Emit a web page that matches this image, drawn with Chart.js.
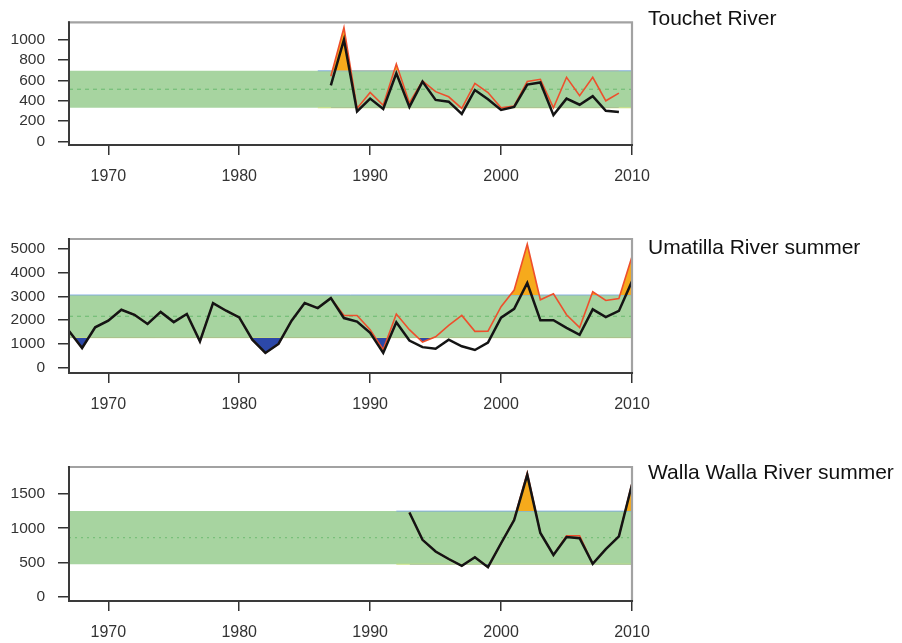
<!DOCTYPE html>
<html>
<head>
<meta charset="utf-8">
<script src="https://cdn.jsdelivr.net/npm/chart.js@4.4.1/dist/chart.umd.min.js"></script>
<style>
  html, body { margin: 0; padding: 0; background: #fff; }
  body { width: 902px; height: 643px; position: relative; overflow: hidden;
         font-family: "Liberation Sans", Arial, Helvetica, sans-serif; }
  .panel { position: absolute; left: 0; }
  .title { position: absolute; left: 648px; font-size: 21px; line-height: 21px;
           color: #111; white-space: nowrap; }
</style>
</head>
<body>
<div class="panel" style="top:0px"><canvas id="touchet" width="902" height="214"></canvas></div>
<div class="panel" style="top:214px"><canvas id="umatilla" width="902" height="214"></canvas></div>
<div class="panel" style="top:428px"><canvas id="walla" width="902" height="215"></canvas></div>
<div class="title" style="top:7px">Touchet River</div>
<div class="title" style="top:236px">Umatilla River summer</div>
<div class="title" style="top:461px">Walla Walla River summer</div>

<script>
// ---- Shared axis ticks ----
const xTicks = [1970, 1980, 1990, 2000, 2010];
const xRange = [1967, 2010];

// ---- Touchet River ----
const touchetYears = [1987, 1988, 1989, 1990, 1991, 1992, 1993, 1994, 1995, 1996, 1997, 1998,
                      1999, 2000, 2001, 2002, 2003, 2004, 2005, 2006, 2007, 2008, 2009];
const touchetWild  = [550, 1000, 294, 420, 318, 670, 339, 588, 408, 390, 270, 505,
                      414, 309, 339, 558, 579, 258, 420, 360, 444, 300, 288];
const touchetTotal = [640, 1120, 324, 480, 354, 760, 378, 595, 489, 438, 324, 570,
                      480, 330, 348, 588, 610, 330, 630, 450, 630, 399, 474];
const touchetBand  = [330, 512, 694];           // low, mean, high
const touchetYTicks = [0, 200, 400, 600, 800, 1000];

// ---- Umatilla River summer ----
const umatillaYears = [1967, 1968, 1969, 1970, 1971, 1972, 1973, 1974, 1975, 1976, 1977,
                       1978, 1979, 1980, 1981, 1982, 1983, 1984, 1985, 1986, 1987, 1988,
                       1989, 1990, 1991, 1992, 1993, 1994, 1995, 1996, 1997, 1998, 1999,
                       2000, 2001, 2002, 2003, 2004, 2005, 2006, 2007, 2008, 2009, 2010];
const umatillaWild  = [1550, 830, 1700, 1980, 2440, 2230, 1840, 2350, 1920, 2260, 1110,
                       2720, 2400, 2120, 1180, 620, 1000, 1980, 2720, 2510, 2930, 2090,
                       1940, 1470, 620, 1915, 1145, 865, 795, 1180, 900, 745, 1060,
                       2105, 2478, 3568, 2000, 2000, 1680, 1385, 2458, 2128, 2392, 3638];
const umatillaTotal = [1550, 830, 1700, 1980, 2440, 2230, 1840, 2350, 1920, 2260, 1110,
                       2720, 2400, 2120, 1180, 620, 1000, 1980, 2720, 2510, 2930, 2200,
                       2200, 1600, 760, 2260, 1600, 1080, 1300, 1780, 2200, 1530, 1540,
                       2570, 3270, 5200, 2860, 3110, 2230, 1690, 3200, 2830, 2910, 4680];
const umatillaBand  = [1264, 2163, 3062];
const umatillaYTicks = [0, 1000, 2000, 3000, 4000, 5000];

// ---- Walla Walla River summer ----
const wallaYears = [1993, 1994, 1995, 1996, 1997, 1998, 1999, 2000, 2001, 2002, 2003,
                    2004, 2005, 2006, 2007, 2008, 2009, 2010];
const wallaWild  = [1230, 830, 660, 550, 450, 575, 430, 780, 1120, 1780, 930,
                    610, 870, 855, 480, 695, 880, 1640];
const wallaTotal = [1230, 830, 660, 550, 450, 575, 430, 780, 1130, 1810, 930,
                    610, 890, 890, 480, 695, 880, 1660];
const wallaBand  = [474, 862, 1250];
const wallaYTicks = [0, 500, 1000, 1500];

// ---- Styling ----
const C = {
  band: '#a7d4a0',
  mean: '#78c07a',
  bandTopEdge: 'rgba(120,165,225,0.85)',
  bandLowEdge: 'rgba(205,225,120,0.9)',
  above: '#f6aa1c',
  below: '#2c48a8',
  total: '#ee4f2c',
  wild: '#141414',
  axis: '#333333',
  box: '#a2a2a2',
  none: 'rgba(0,0,0,0)'
};

// Plot frame: dark axes on left/bottom, grey box on top/right
const framePlugin = {
  id: 'frame',
  afterDraw(chart) {
    const { ctx, chartArea: a } = chart;
    ctx.save();
    ctx.lineCap = 'square';
    ctx.strokeStyle = C.box;
    ctx.lineWidth = 2.2;
    ctx.beginPath();
    ctx.moveTo(a.left, a.top);
    ctx.lineTo(a.right, a.top);
    ctx.lineTo(a.right, a.bottom);
    ctx.stroke();
    ctx.strokeStyle = '#3a3a3a';
    ctx.lineWidth = 2;
    ctx.beginPath();
    ctx.moveTo(a.left, a.top);
    ctx.lineTo(a.left, a.bottom);
    ctx.lineTo(a.right, a.bottom);
    ctx.stroke();
    ctx.restore();
  }
};

function pts(xs, ys) { return xs.map((x, i) => ({ x: x, y: ys[i] })); }
function flat(x0, x1, y) { return [{ x: x0, y: y }, { x: x1, y: y }]; }

function buildPanel(id, p) {
  const [lo, mean, hi] = p.band;
  const edgeStart = p.years[0] - 1 < xRange[0] ? xRange[0] : p.years[0] - 1;
  const datasets = [
    { // wild/natural-origin count
      data: pts(p.years, p.wild), borderColor: C.wild, borderWidth: 2.5,
      fill: false, order: 0
    },
    { // total count with area above the band
      data: pts(p.years, p.total), borderColor: C.total, borderWidth: 1.6,
      fill: { target: { value: hi }, above: C.above, below: C.none }, order: 1
    },
    { // total count area below the band
      data: pts(p.years, p.total), borderColor: C.none, borderWidth: 0,
      fill: { target: { value: lo }, above: C.none, below: C.below }, order: 2
    },
    {
      data: flat(edgeStart, xRange[1], hi), borderColor: C.bandTopEdge, borderWidth: 1,
      fill: false, order: 3
    },
    {
      data: flat(edgeStart, xRange[1], lo), borderColor: C.bandLowEdge, borderWidth: 1,
      fill: false, order: 3
    },
    { // long-term mean
      data: flat(xRange[0], xRange[1], mean), borderColor: C.mean, borderWidth: 1.3,
      borderDash: p.dash, fill: false, order: 4
    },
    { // mean ± 1 sd band
      data: flat(xRange[0], xRange[1], hi), borderColor: C.none, borderWidth: 0,
      backgroundColor: C.band, fill: { target: { value: lo } }, order: 5
    }
  ];

  return new Chart(document.getElementById(id), {
    type: 'line',
    data: { datasets: datasets },
    options: {
      responsive: false,
      animation: false,
      devicePixelRatio: 1,
      elements: { point: { radius: 0, hoverRadius: 0 }, line: { tension: 0 } },
      layout: { padding: { left: 0, right: 270, top: p.padTop, bottom: p.padBottom } },
      plugins: { legend: { display: false }, tooltip: { enabled: false }, title: { display: false } },
      scales: {
        x: {
          type: 'linear', min: xRange[0], max: xRange[1],
          afterBuildTicks: s => { s.ticks = xTicks.map(v => ({ value: v })); },
          afterFit: s => { s.height = 40; },
          border: { display: false },
          grid: { drawOnChartArea: false, drawTicks: true, tickLength: 10,
                  color: C.axis, lineWidth: 1.5 },
          ticks: { color: C.axis, padding: 12, maxRotation: 0, autoSkip: false,
                   font: { family: '"Liberation Sans", Arial, sans-serif', size: 16 },
                   callback: v => String(v) }
        },
        y: {
          type: 'linear', min: p.yMin, max: p.yMax,
          afterBuildTicks: s => { s.ticks = p.yTicks.map(v => ({ value: v })); },
          afterFit: s => { s.width = 69; },
          border: { display: false },
          grid: { drawOnChartArea: false, drawTicks: true, tickLength: 11,
                  color: C.axis, lineWidth: 1.5 },
          ticks: { color: C.axis, padding: 13, autoSkip: false,
                   font: { family: '"Liberation Sans", Arial, sans-serif', size: 15.5 },
                   callback: v => String(v) }
        }
      }
    },
    plugins: [framePlugin]
  });
}

buildPanel('touchet', {
  years: touchetYears, wild: touchetWild, total: touchetTotal, band: touchetBand,
  yTicks: touchetYTicks, yMin: -36, yMax: 1171, padTop: 11, padBottom: 29, dash: [4, 4]
});
buildPanel('umatilla', {
  years: umatillaYears, wild: umatillaWild, total: umatillaTotal, band: umatillaBand,
  yTicks: umatillaYTicks, yMin: -224, yMax: 5421, padTop: 25, padBottom: 15, dash: [4, 4]
});
buildPanel('walla', {
  years: wallaYears, wild: wallaWild, total: wallaTotal, band: wallaBand,
  yTicks: wallaYTicks, yMin: -64, yMax: 1895, padTop: 39, padBottom: 2, dash: [2, 4]
});
</script>
</body>
</html>
